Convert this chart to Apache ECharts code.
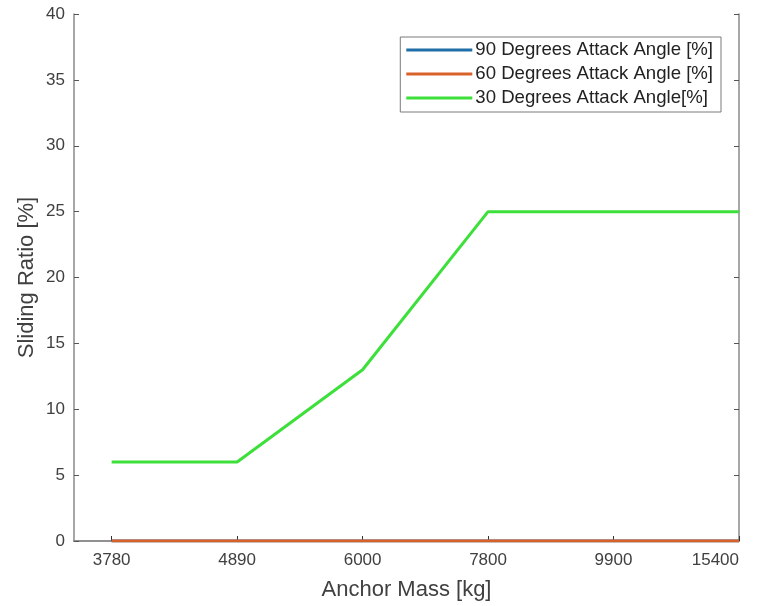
<!DOCTYPE html>
<html>
<head>
    <meta charset="utf-8">
    <title>Sliding Ratio</title>
    <script src="https://cdn.jsdelivr.net/npm/echarts@6/dist/echarts.min.js"></script>
    <style>
        html, body { margin: 0; padding: 0; background: #fff; }
    </style>
</head>
<body>
<div id="main" style="width: 769px;height:606px;"></div>
<script type="text/javascript">
    // data
    var masses = ['3780', '4890', '6000', '7800', '9900', '15400'];
    var deg90 = [0, 0, 0, 0, 0, 0];
    var deg60 = [0, 0, 0, 0, 0, 0];
    var deg30 = [6, 6, 13, 25, 25, 25];
    var yTicks = [0, 5, 10, 15, 20, 25, 30, 35, 40];

    var positions = masses.map(function (m, i) { return i + 1; });
    function pairs(vals) {
        return vals.map(function (v, i) { return [positions[i], v]; });
    }

    var fontName = '"Liberation Sans", Arial, sans-serif';
    var axisGray = '#8a8a8a';
    var labelGray = '#404040';

    var myChart = echarts.init(document.getElementById('main'));
    var option = {
        animation: false,
        backgroundColor: '#fff',
        grid: { left: 74, right: 30, top: 14, bottom: 65, containLabel: false, outerBoundsMode: 'none' },
        legend: {
            right: 48, top: 37,
            orient: 'vertical',
            itemGap: 4,
            itemWidth: 66, itemHeight: 3,
            padding: [3, 8, 4, 6],
            borderColor: '#7a7a7a', borderWidth: 1,
            backgroundColor: '#fff',
            icon: 'rect',
            textStyle: { fontFamily: fontName, fontSize: 18.6, lineHeight: 20, color: '#222', padding: [0, 0, 0, -2] },
            data: ['90 Degrees Attack Angle [%]', '60 Degrees Attack Angle [%]', '30 Degrees Attack Angle[%]']
        },
        xAxis: [{
            type: 'value', min: 0.7, max: 6,
            name: 'Anchor Mass [kg]', nameLocation: 'middle', nameGap: 38, nameMoveOverlap: false,
            nameTextStyle: { fontFamily: fontName, fontSize: 22, color: labelGray },
            axisLine: { lineStyle: { color: axisGray, width: 1.5 } },
            axisTick: { inside: true, length: 5, lineStyle: { color: '#333' }, customValues: positions },
            axisLabel: {
                fontFamily: fontName, fontSize: 17, color: labelGray, margin: 11,
                customValues: positions, alignMaxLabel: 'right',
                formatter: function (v) { return masses[Math.round(v) - 1] || ''; }
            },
            splitLine: { show: false }
        }, {
            type: 'value', min: 0.7, max: 6, position: 'top',
            axisLine: { lineStyle: { color: axisGray, width: 1.5 } },
            axisTick: { show: false },
            axisLabel: { show: false },
            splitLine: { show: false }
        }],
        yAxis: [{
            type: 'value', min: 0, max: 40, interval: 5,
            name: 'Sliding Ratio [%]', nameLocation: 'middle', nameGap: 36, nameMoveOverlap: false,
            nameTextStyle: { fontFamily: fontName, fontSize: 22, color: labelGray },
            axisLine: { show: true, lineStyle: { color: axisGray, width: 1.5 } },
            axisTick: { show: true, inside: true, length: 5, lineStyle: { color: '#555' } },
            axisLabel: {
                fontFamily: fontName, fontSize: 17, color: labelGray, margin: 9,
                formatter: function (v) { return yTicks.indexOf(v) >= 0 ? String(v) : ''; }
            },
            splitLine: { show: false }
        }, {
            type: 'value', min: 0, max: 40, interval: 5, position: 'right',
            axisLine: { show: true, lineStyle: { color: axisGray, width: 1.5 } },
            axisTick: { show: true, inside: true, length: 5, lineStyle: { color: '#555' } },
            axisLabel: { show: false },
            splitLine: { show: false }
        }],
        series: [{
            name: '90 Degrees Attack Angle [%]', type: 'line',
            data: pairs(deg90), showSymbol: false, z: 2,
            color: '#1f6ea8', lineStyle: { width: 3 }
        }, {
            name: '60 Degrees Attack Angle [%]', type: 'line',
            data: pairs(deg60), showSymbol: false, z: 3,
            color: '#d9622b', lineStyle: { width: 3 }
        }, {
            name: '30 Degrees Attack Angle[%]', type: 'line',
            data: pairs(deg30), showSymbol: false, z: 4,
            color: '#3de03a', lineStyle: { width: 3 }
        }]
    };
    myChart.setOption(option);
</script>
</body>
</html>
